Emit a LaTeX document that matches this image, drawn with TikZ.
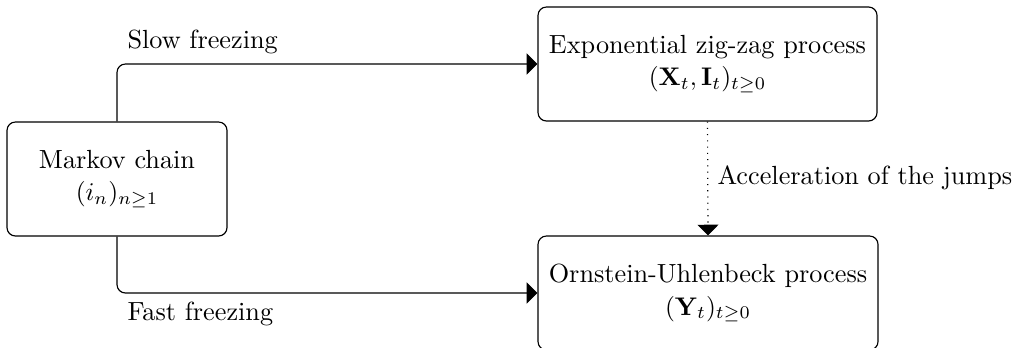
\documentclass[tikz,border=0pt]{standalone}
\usepackage{amsmath}
\usetikzlibrary{arrows.meta}
\begin{document}
\begin{tikzpicture}[x=0.01379cm,y=-0.01379cm,
  every node/.style={font=\fontsize{10.3pt}{12.8pt}\selectfont},
  box/.style={draw,rounded corners=3.3pt,align=center,inner sep=0pt,line width=0.45pt,minimum height=114*0.01379cm},
  conn/.style={-{Triangle[length=4.2pt,width=8.2pt]},line width=0.45pt},
  lab/.style={inner sep=0pt,anchor=west}]
\useasboundingbox (0,0) rectangle (1019,347);
\node[box,minimum width=220*0.01379cm] (mk) at (117,179) {Markov chain\\$(i_n)_{n\geq1}$};
\node[box,minimum width=339*0.01379cm] (ex) at (707.5,64) {Exponential zig-zag process\\$(\mathbf{X}_t,\mathbf{I}_t)_{t\geq0}$};
\node[box,minimum width=340*0.01379cm] (ou) at (708,293) {Ornstein-Uhlenbeck process\\$(\mathbf{Y}_t)_{t\geq0}$};
\draw[conn,rounded corners=3.3pt] (mk.north) |- (ex.west);
\draw[conn,rounded corners=3.3pt] (mk.south) |- (ou.west);
\draw[conn,dotted] (ex.south) -- (ou.north);
\node[lab] (sf) at (127,42) {Slow freezing};
\node[lab] (ff) at (127,314) {Fast freezing};
\node[lab] (ac) at (717,178) {Acceleration of the jumps};
\end{tikzpicture}
\end{document}
